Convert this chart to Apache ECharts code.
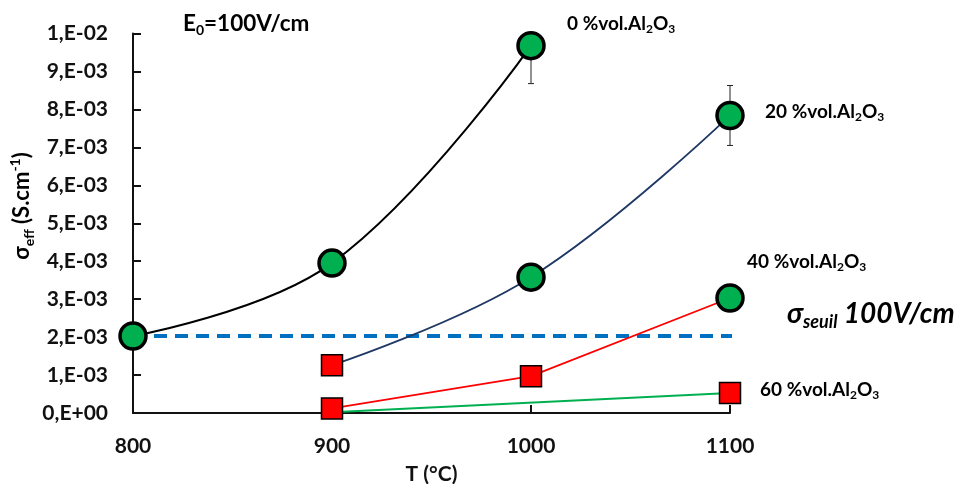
<!DOCTYPE html>
<html>
<head>
<meta charset="utf-8">
<script src="https://cdn.jsdelivr.net/npm/echarts@6/dist/echarts.min.js"></script>
<style>html,body{margin:0;padding:0;background:#fff}#c{width:955px;height:484px}</style>
</head>
<body>
<div id="c"></div>
<script>
// ---- data ----
const xTicks = [800, 900, 1000, 1100];
const yTickLabels = ['0,E+00','1,E-03','2,E-03','3,E-03','4,E-03','5,E-03','6,E-03','7,E-03','8,E-03','9,E-03','1,E-02'];
const s0 = [[800, 2.03e-3], [900, 3.95e-3], [1000, 9.68e-3]];
const s0Symbols = ['circle', 'circle', 'circle'];
const s20 = [[900, 1.26e-3], [1000, 3.58e-3], [1100, 7.84e-3]];
const s20Symbols = ['rect', 'circle', 'circle'];
const s40 = [[900, 0.12e-3], [1000, 0.97e-3], [1100, 3.03e-3]];
const s40Symbols = ['rect', 'rect', 'circle'];
const s60 = [[900, 0.02e-3], [1100, 0.53e-3]];
const s60Symbols = ['none', 'rect'];
const errorBars = [[1000, 8.68e-3, 10.0e-3], [1100, 7.05e-3, 8.63e-3]];
const threshold = 2.03e-3;
const thresholdX = [800, 1125];

const FONT = 'Lato';
const GREEN = '#00B050', RED = '#FF0000', NAVY = '#1F3864', BLUE = '#0070C0';

function pts(data, symbols) {
  return data.map((d, i) => {
    const s = symbols[i];
    if (s === 'none') return { value: d, symbol: 'none' };
    if (s === 'rect') return { value: d, symbol: 'rect', symbolSize: 21,
      itemStyle: { color: RED, borderColor: '#000', borderWidth: 1.5 } };
    return { value: d, symbol: 'circle', symbolSize: 26,
      itemStyle: { color: GREEN, borderColor: '#000', borderWidth: 3.5 } };
  });
}

function richLabel(txt, color, size) {
  return {
    text: txt,
    rich: {
      m: { fontFamily: FONT, fontWeight: 'bold', fontSize: size, lineHeight: size + 5, color: color },
      s: { fontFamily: FONT, fontWeight: 'bold', fontSize: Math.round(size * 0.62), lineHeight: Math.round(size * 0.62), verticalAlign: 'bottom', color: color }
    }
  };
}
function alLabel(pct) { return '{m|' + pct + ' %vol.Al}{s|2}{m|O}{s|3}'; }

const chart = echarts.init(document.getElementById('c'), null, { renderer: 'canvas' });
const option = {
  animation: false,
  backgroundColor: '#fff',
  grid: { left: 133, right: 225, top: 33.5, bottom: 71, containLabel: false, outerBoundsMode: 'none' },
  xAxis: {
    type: 'value', min: xTicks[0], max: xTicks[xTicks.length - 1], interval: 100,
    name: 'T (°C)', nameLocation: 'middle', nameGap: 51,
    nameTextStyle: { fontFamily: FONT, fontWeight: 'bold', fontSize: 21, color: '#111' },
    axisLine: { lineStyle: { color: '#111', width: 2 } },
    axisTick: { inside: true, length: 8, lineStyle: { color: '#111', width: 2 } },
    axisLabel: { margin: 23, fontFamily: FONT, fontWeight: 'bold', fontSize: 21, color: '#111',
      formatter: v => String(v) },
    splitLine: { show: false }
  },
  yAxis: {
    type: 'value', min: 0, max: 0.01, interval: 0.001,
    axisLine: { show: true, lineStyle: { color: '#111', width: 2 } },
    axisTick: { show: true, inside: true, length: 8, lineStyle: { color: '#111', width: 2 } },
    axisLabel: { margin: 25, fontFamily: FONT, fontWeight: 'bold', fontSize: 21, color: '#111',
      formatter: v => yTickLabels[Math.round(v / 0.001)] },
    splitLine: { show: false }
  },
  series: [
    { type: 'line', data: thresholdX.map(x => [x, threshold]), symbol: 'none', clip: false,
      lineStyle: { color: BLUE, width: 4, type: [13, 8] }, z: 1 },
    { type: 'line', data: pts(s0, s0Symbols), smooth: 0.4, lineStyle: { color: '#000', width: 2 }, z: 3 },
    { type: 'line', data: pts(s20, s20Symbols), smooth: 0.4, lineStyle: { color: NAVY, width: 1.8 }, z: 3 },
    { type: 'line', data: pts(s60, s60Symbols), lineStyle: { color: GREEN, width: 2 }, z: 2 },
    { type: 'line', data: pts(s40, s40Symbols), lineStyle: { color: RED, width: 1.8 }, z: 3 },
    { type: 'custom', data: errorBars, z: 2,
      renderItem: function (params, api) {
        const x = api.value(0);
        const lo = api.coord([x, api.value(1)]);
        const hi = api.coord([x, api.value(2)]);
        const st = { stroke: '#222', lineWidth: 1 };
        return { type: 'group', children: [
          { type: 'line', shape: { x1: lo[0], y1: lo[1], x2: hi[0], y2: hi[1] }, style: st },
          { type: 'line', shape: { x1: lo[0] - 3, y1: lo[1], x2: lo[0] + 3, y2: lo[1] }, style: st },
          { type: 'line', shape: { x1: hi[0] - 3, y1: hi[1], x2: hi[0] + 3, y2: hi[1] }, style: st }
        ] };
      } }
  ],
  graphic: [
    { type: 'text', left: 183, top: 12, style: richLabel('{m|E}{s|0}{m|=100V/cm}', '#111', 22.5) },
    { type: 'text', left: 567, top: 14, style: richLabel(alLabel(0), '#111', 19) },
    { type: 'text', left: 765, top: 102, style: richLabel(alLabel(20), NAVY, 19) },
    { type: 'text', left: 747, top: 252, style: richLabel(alLabel(40), '#111', 19) },
    { type: 'text', left: 760, top: 380, style: richLabel(alLabel(60), '#111', 19) },
    { type: 'text', left: 787, top: 300, style: {
      text: '{m|σ}{s|seuil}{m| 100V/cm}',
      rich: {
        m: { fontFamily: FONT, fontWeight: 'bold', fontStyle: 'italic', fontSize: 28, lineHeight: 34, color: BLUE },
        s: { fontFamily: FONT, fontWeight: 'bold', fontStyle: 'italic', fontSize: 18, lineHeight: 18, verticalAlign: 'bottom', color: BLUE }
      } } },
    { type: 'text', x: 22, y: 206, rotation: Math.PI / 2, style: {
      text: '{m|σ}{s|eff}{m| (S.cm}{p|-1}{m|)}',
      align: 'center', verticalAlign: 'middle',
      rich: {
        m: { fontFamily: FONT, fontWeight: 'bold', fontSize: 22, lineHeight: 28, color: '#111' },
        s: { fontFamily: FONT, fontWeight: 'bold', fontSize: 14, lineHeight: 14, verticalAlign: 'bottom', color: '#111' },
        p: { fontFamily: FONT, fontWeight: 'bold', fontSize: 14, lineHeight: 14, verticalAlign: 'top', color: '#111' }
      } } }
  ]
};
chart.setOption(option);
</script>
</body>
</html>
